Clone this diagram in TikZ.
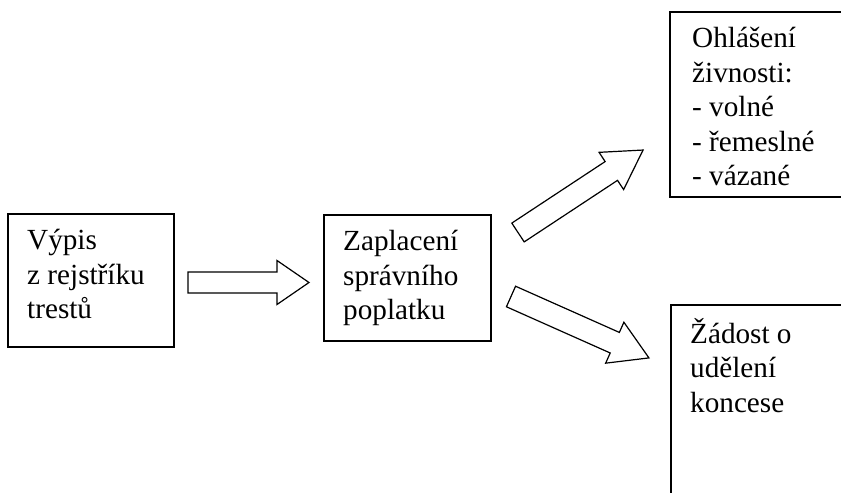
\documentclass[tikz,border=0pt]{standalone}
\usepackage{fontspec}
\setmainfont{Liberation Serif}
\begin{document}
\begin{tikzpicture}[x=1bp,y=1bp,
  box/.style={draw, line width=1.4bp, inner sep=0pt, outer sep=0pt, anchor=north west},
  openbox/.style={inner sep=0pt, outer sep=0pt, anchor=north west},
  boxline/.style={line width=1.4bp, line cap=rect},
  arrowline/.style={draw, line width=1.2bp, line join=miter, fill=white},
  lbl/.style={anchor=base west, inner sep=0pt, font=\fontsize{29.2bp}{34.5bp}\selectfont},
  pics/blockarrow/.style n args={4}{code={%
    % #1 length, #2 head length, #3 half shaft width, #4 half head width
    \draw[arrowline] (0,-#3) -- ({#1-#2},-#3) -- ({#1-#2},-#4) -- (#1,0)
      -- ({#1-#2},#4) -- ({#1-#2},#3) -- (0,#3) -- cycle;}}
]
\useasboundingbox (0,0) rectangle (841,-493);
\clip (0,0) rectangle (841,-493);

% boxes
\node[box, minimum width=166bp, minimum height=133bp] (vypis) at (8,-214) {};
\node[box, minimum width=167bp, minimum height=126bp] (poplatek) at (324,-215) {};
% the two on the right run on past the page edge
\node[openbox, minimum width=300bp, minimum height=185bp] (ohlaseni) at (670,-12) {};
\draw[boxline] (ohlaseni.north east) -- (ohlaseni.north west)
  -- (ohlaseni.south west) -- (ohlaseni.south east);
\node[openbox, minimum width=300bp, minimum height=300bp] (koncese) at (671,-305) {};
\draw[boxline] (koncese.north east) -- (koncese.north west) -- (koncese.south west);

% texts
\node[lbl] (vypis-t) at (27,-250)
  {\begin{tabular}[t]{@{}l@{}}Výpis\\z rejstříku\\trestů\end{tabular}};
\node[lbl] (poplatek-t) at (343,-251)
  {\begin{tabular}[t]{@{}l@{}}Zaplacení\\správního\\poplatku\end{tabular}};
\node[lbl] (ohlaseni-t) at (692,-48)
  {\begin{tabular}[t]{@{}l@{}}Ohlášení\\živnosti:\\- volné\\- řemeslné\\- vázané\end{tabular}};
\node[lbl] (koncese-t) at (690,-343)
  {\begin{tabular}[t]{@{}l@{}}Žádost o\\udělení\\koncese\end{tabular}};

% block arrows
\pic at (188,-282.5) {blockarrow={121}{32}{10.5}{22}};
\pic[rotate=33.4] at (518,-232.5) {blockarrow={149.8}{38}{11.25}{22.3}};
\pic[rotate=-24] at (511,-296.5) {blockarrow={151}{37.4}{11.25}{22.4}};
\end{tikzpicture}
\end{document}
